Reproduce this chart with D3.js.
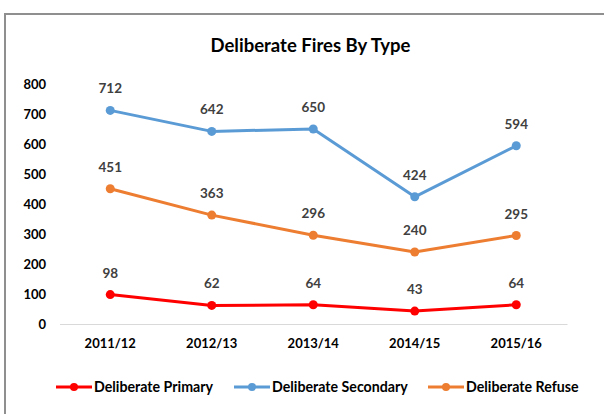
<!DOCTYPE html>
<html><head><meta charset="utf-8">
<script src="https://cdn.jsdelivr.net/npm/d3@7"></script>
<style>html,body{margin:0;padding:0;background:#fff;}svg{display:block;}</style>
</head><body>
<svg id="c" width="604" height="414"></svg>
<script>
const categories = ["2011/12","2012/13","2013/14","2014/15","2015/16"];
const primary = [98, 62, 64, 43, 64];
const secondary = [712, 642, 650, 424, 594];
const refuse = [451, 363, 296, 240, 295];
const yTicks = [0,100,200,300,400,500,600,700,800];
const seriesNames = ["Deliberate Primary","Deliberate Secondary","Deliberate Refuse"];
const seriesColors = ["#FF0000","#5B9BD5","#ED7D31"];
const title = "Deliberate Fires By Type";

const series = [primary, secondary, refuse].map((v,i)=>({name:seriesNames[i], color:seriesColors[i], values:v}));
const FONT = "Lato, 'Open Sans', sans-serif";
const svg = d3.select("#c");

// frame
svg.append("rect").attr("x",5).attr("y",14).attr("width",640).attr("height",440)
  .attr("fill","none").attr("stroke","#8f8f8f").attr("stroke-width",2);

const x = d3.scaleBand().domain(categories).range([59.5, 567]);
const y = d3.scaleLinear().domain([0,800]).range([324, 84]);

svg.append("text").attr("x",310.5).attr("y",52).attr("text-anchor","middle")
  .attr("font-family",FONT).attr("font-size",18.5).attr("font-weight","bold").attr("fill","#000").text(title);

// y axis labels
const ya = svg.append("g").attr("transform","translate(60,0)")
  .call(d3.axisLeft(y).tickValues(yTicks).tickSize(0).tickPadding(14));
ya.select(".domain").remove();
ya.selectAll("text").attr("font-family",FONT).attr("font-size",13).attr("font-weight","bold").attr("fill","#000");

// x axis
const xa = svg.append("g").attr("transform","translate(0,324)")
  .call(d3.axisBottom(x).tickSize(0).tickPadding(15));
xa.select(".domain").attr("stroke","#d9d9d9").attr("stroke-width",1);
xa.selectAll("text").attr("font-family",FONT).attr("font-size",13).attr("font-weight","bold").attr("fill","#000");

const cx = c => x(c) + x.bandwidth()/2;
const line = d3.line().x((d,i)=>cx(categories[i])).y(d=>y(d));

series.forEach(s=>{
  const g = svg.append("g");
  g.append("path").datum(s.values).attr("d",line).attr("fill","none")
    .attr("stroke",s.color).attr("stroke-width",3).attr("stroke-linejoin","round");
  g.selectAll("circle").data(s.values).join("circle")
    .attr("cx",(d,i)=>cx(categories[i])).attr("cy",d=>y(d)).attr("r",4.5).attr("fill",s.color);
  g.selectAll("text").data(s.values).join("text")
    .attr("x",(d,i)=>cx(categories[i])).attr("y",d=>y(d)-17)
    .attr("text-anchor","middle").attr("font-family",FONT).attr("font-size",13.5)
    .attr("font-weight","bold").attr("fill","#404040").text(d=>d);
});

// legend
const legX = [56, 234, 428];
const lg = svg.append("g");
series.forEach((s,i)=>{
  const g = lg.append("g").attr("transform",`translate(${legX[i]},387)`);
  g.append("line").attr("x1",0).attr("x2",36).attr("y1",0).attr("y2",0).attr("stroke",s.color).attr("stroke-width",3);
  g.append("circle").attr("cx",18).attr("cy",0).attr("r",4).attr("fill",s.color);
  g.append("text").attr("x",38).attr("y",5).attr("font-family",FONT).attr("font-size",14.2)
    .attr("font-weight","bold").attr("fill","#000").text(s.name);
});
</script>
</body></html>
